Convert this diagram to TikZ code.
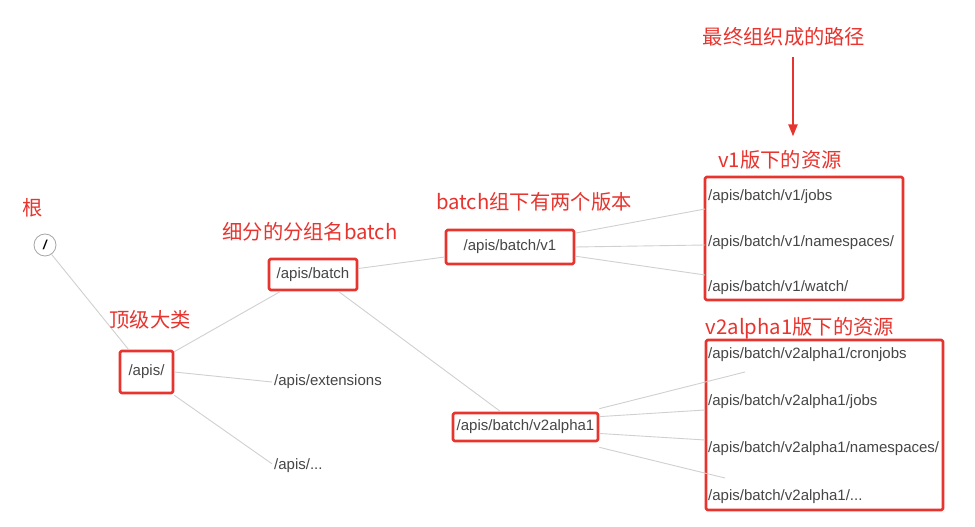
\documentclass[tikz,border=0pt]{standalone}
\usepackage{fontspec}
\setmainfont{Liberation Sans}
\newfontfamily\cjk{Noto Sans CJK SC}
\usetikzlibrary{arrows.meta,positioning}
\definecolor{markred}{RGB}{232,52,46}
\definecolor{pathgray}{RGB}{70,70,70}
\definecolor{linkgray}{RGB}{208,208,208}

\begin{document}
\begin{tikzpicture}[x=1pt, y=-1pt, line join=bevel,
  note/.style={text=markred, font=\cjk\fontsize{20.3}{20}\selectfont, inner sep=0pt},
  apath/.style={text=pathgray, font=\fontsize{15}{15}\selectfont, inner sep=2pt},
  hibox/.style={draw=markred, line width=2.6pt, rounded corners=1.5pt},
  link/.style={draw=linkgray, line width=0.9pt}]
\useasboundingbox[fill=white] (0,0) rectangle (975,527);

% tree nodes
\node[draw=gray!70, circle, line width=0.8pt, minimum size=22pt, inner sep=0pt, font=\bfseries\itshape\fontsize{13}{13}\selectfont] (root) at (45,245) {/};
\node[apath, hibox, minimum width=53pt, minimum height=42pt] (apis) at (146.5,372) {/apis/};
\node[apath, hibox, minimum width=88pt, minimum height=31pt] (batch) at (313,274.5) {/apis/batch};
\node[apath, anchor=west] (ext) at (272,382) {/apis/extensions};
\node[apath, anchor=west] (more) at (272,466) {/apis/...};
\node[apath, hibox, minimum width=128pt, minimum height=34pt] (v1) at (510,247) {/apis/batch/v1};
\node[apath, hibox, minimum width=145pt, minimum height=28pt] (v2) at (525.5,427) {/apis/batch/v2alpha1};

% resources
\node[apath, anchor=west] (jobs1) at (706,197) {/apis/batch/v1/jobs};
\node[apath, anchor=west] (ns1) at (706,243) {/apis/batch/v1/namespaces/};
\node[apath, anchor=west] (watch1) at (706,288) {/apis/batch/v1/watch/};
\node[apath, anchor=west] (cron2) at (706,355) {/apis/batch/v2alpha1/cronjobs};
\node[apath, anchor=west] (jobs2) at (706,402) {/apis/batch/v2alpha1/jobs};
\node[apath, anchor=west] (ns2) at (706,449) {/apis/batch/v2alpha1/namespaces/};
\node[apath, anchor=west] (more2) at (706,497) {/apis/batch/v2alpha1/...};
\draw[hibox] (705,177) rectangle (903,300);
\draw[hibox] (706,340) rectangle (943,510);

% free ends of the links
\coordinate (e1) at (705,209); \coordinate (e2) at (705,245); \coordinate (e3) at (705,275);
\coordinate (f1) at (745,372); \coordinate (f2) at (705,410); \coordinate (f3) at (705,440); \coordinate (f4) at (725,478);

% links
\draw[link] (root.-55) -- ([xshift=10pt]apis.north west);
\draw[link] ([yshift=-2pt]apis.north east) -- ([xshift=13pt]batch.south west);
\draw[link] (apis.east) -- (ext.west);
\draw[link] ([yshift=-1pt]apis.south east) -- ([yshift=-7pt]more.north west);
\draw[link] ([yshift=6pt]batch.east) -- ([yshift=-10pt]v1.west);
\draw[link] ([xshift=-20pt]batch.south east) -- ([xshift=49pt]v2.north west);
\draw[link] (v1.12) -- (e1);
\draw[link] (v1.east) -- (e2);
\draw[link] (v1.-8) -- (e3);
\draw[link] ([yshift=3pt]v2.north east) -- (f1);
\draw[link] (v2.8) -- (f2);
\draw[link] (v2.-5) -- (f3);
\draw[link] ([yshift=-5pt]v2.south east) -- (f4);

% notes
\node[note] (rootlbl) at (33,208) {根};
\node[note] (toplbl) at (150,320) {顶级大类};
\node[note] (grplbl) at (310,232) {细分的分组名batch};
\node[note] (verlbl) at (534,202) {batch组下有两个版本};
\node[note] (finlbl) at (784,37) {最终组织成的路径};
\node[note] (v1lbl) at (780,160) {v1版下的资源};
\node[note] (v2lbl) at (800,328) {v2alpha1版下的资源};
\draw[markred, line width=2.2pt, -{Triangle[length=12pt,width=9pt]}] ([xshift=9pt,yshift=-10pt]finlbl.south) -- ([xshift=13pt,yshift=14pt]v1lbl.north);
\end{tikzpicture}
\end{document}
